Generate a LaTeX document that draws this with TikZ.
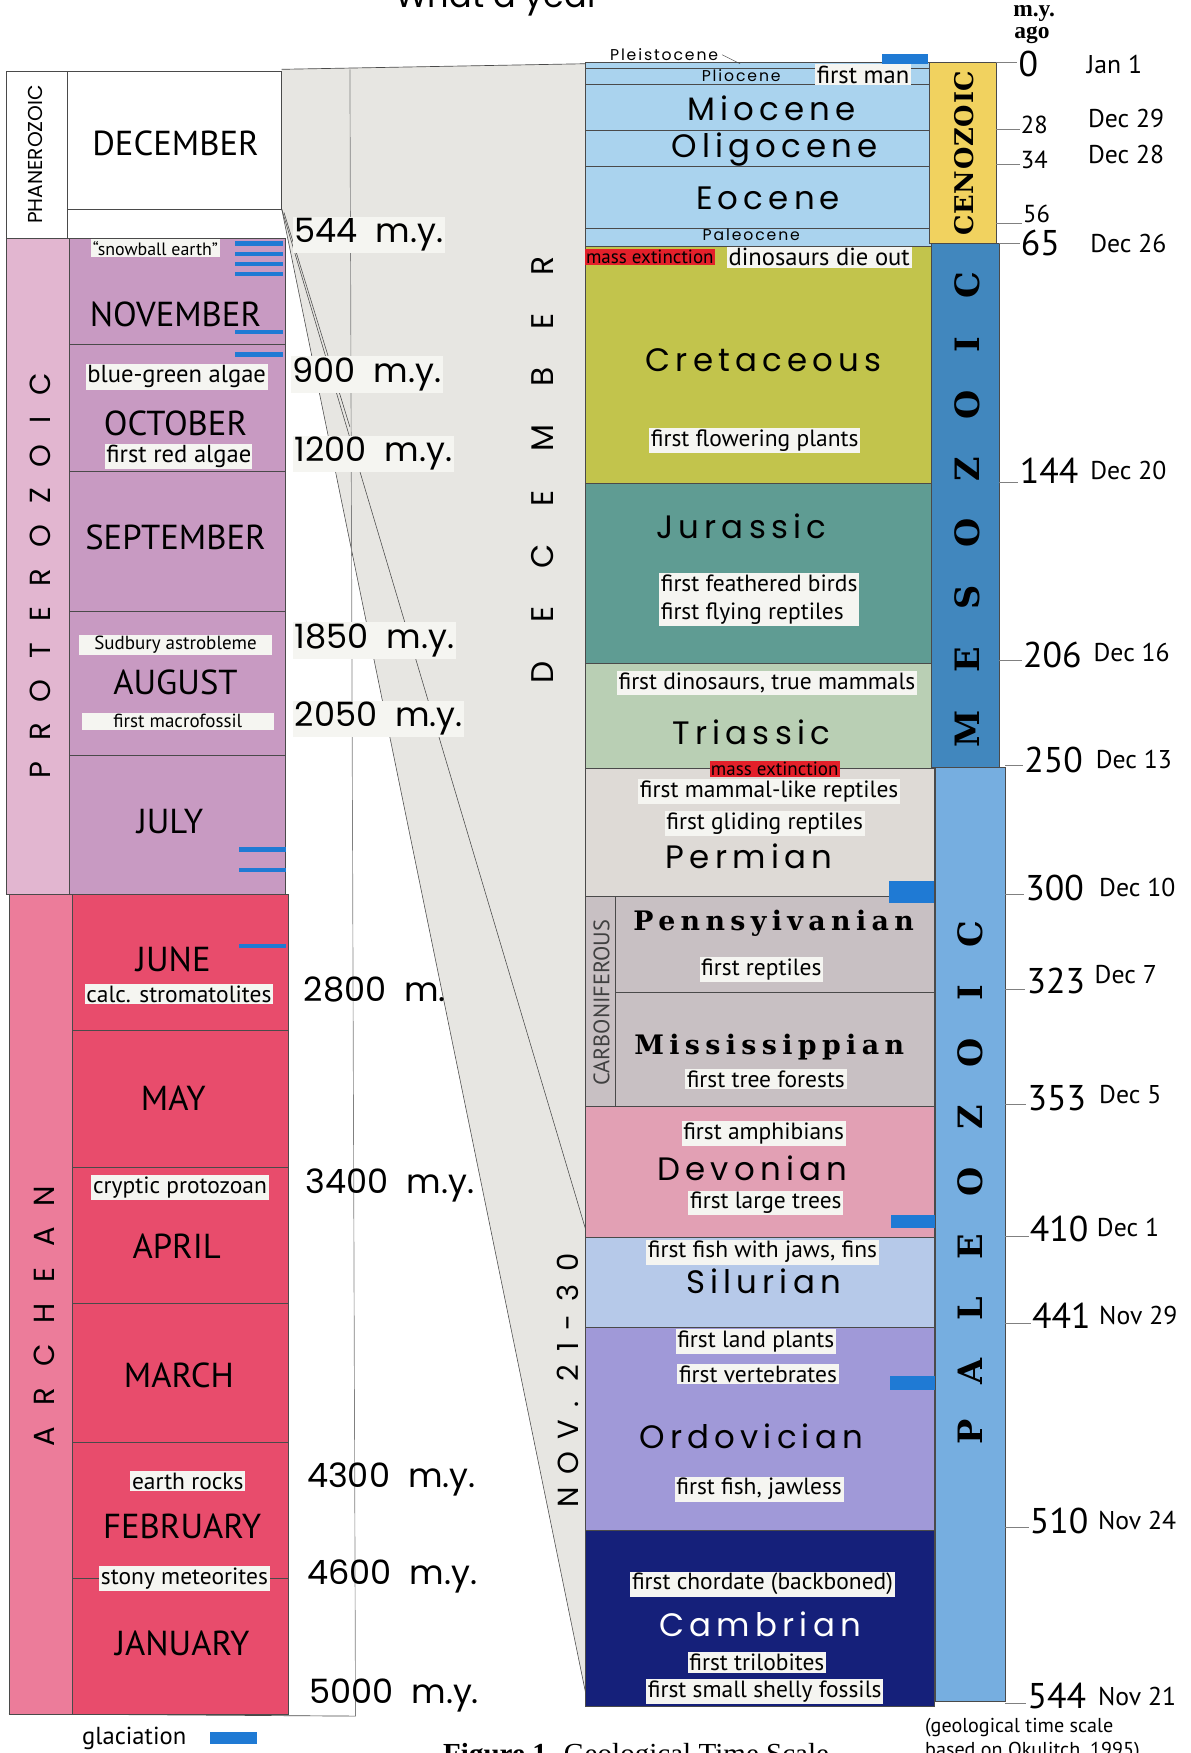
\documentclass[tikz,border=0pt]{standalone}
\usepackage{fontspec}
\setmainfont{Liberation Serif}
\newfontfamily\monthfont{PT Sans}
\newfontfamily\geofont{Poppins}
\newfontfamily\epochfont[LetterSpace=16]{Poppins}
\newfontfamily\minorfont[LetterSpace=12]{Poppins}
\newfontfamily\erafont[LetterSpace=72]{Poppins}
\newfontfamily\decfont[LetterSpace=122]{Poppins}
\newfontfamily\novfont[LetterSpace=43]{Poppins}
\newfontfamily\slabfont[LetterSpace=20]{DejaVu Serif}
\newfontfamily\barfont[LetterSpace=112]{DejaVu Serif}
\newfontfamily\cenofont[LetterSpace=3]{DejaVu Serif}
\newcommand{\fsz}[1]{\fontsize{#1}{#1}\selectfont}

\definecolor{edge}{HTML}{4A4A4A}
\definecolor{funnel}{HTML}{E7E6E2}
\definecolor{boxwhite}{HTML}{F5F5F1}
\definecolor{iceblue}{HTML}{1F7AD4}
\definecolor{extred}{HTML}{E3202A}
\definecolor{protero}{HTML}{E2B6D0}
\definecolor{promonth}{HTML}{C89AC2}
\definecolor{archean}{HTML}{EC7C9A}
\definecolor{armonth}{HTML}{E84C6C}
\definecolor{cenoblue}{HTML}{AAD3EE}
\definecolor{cretac}{HTML}{C2C44C}
\definecolor{jurass}{HTML}{5F9C93}
\definecolor{triass}{HTML}{B9CFB4}
\definecolor{permcol}{HTML}{DEDAD6}
\definecolor{carbon}{HTML}{C8C0C3}
\definecolor{devon}{HTML}{E2A0B4}
\definecolor{silur}{HTML}{B6C9E9}
\definecolor{ordov}{HTML}{A099D8}
\definecolor{cambr}{HTML}{15207A}
\definecolor{cenozoic}{HTML}{F1D25F}
\definecolor{mesozoic}{HTML}{4187BE}
\definecolor{paleozoic}{HTML}{76AEE0}

\begin{document}
\begin{tikzpicture}[x=1pt, y=-1pt,
    month/.style={font=\monthfont\fsz{31}},
    event/.style={fill=boxwhite, inner sep=1.5pt, font=\monthfont\fsz{21}},
    extinct/.style={fill=extred, inner sep=1pt, font=\monthfont\fsz{17}},
    myr/.style={anchor=west, inner sep=1.5pt, font=\geofont\fsz{30}},
    epoch/.style={font=\epochfont\fsz{29}},
    minorepoch/.style={font=\minorfont\fsz{14}},
    slab/.style={font=\slabfont\bfseries\fsz{24}},
    layer/.style={draw=edge, line width=0.6pt},
    scaletick/.style={draw=gray, line width=0.6pt}]
  \useasboundingbox[fill=white] (0,0) rectangle (1065,1568);

  % Title
  \node[font=\geofont\fsz{30}, anchor=base] (title) at (445,7) {What a year};

  % Funnel from the long column into December
  \fill[funnel] (252,62) -- (524,57) -- (526,1525) -- (252,187) -- cycle;
  \draw[layer] (252,62) -- (524,57);
  \draw[edge, line width=0.5pt] (252,187) -- (526,1525);
  \draw[edge, line width=0.5pt] (252,187) -- (526,1107);
  \draw[edge, line width=0.5pt] (254,190) -- (313,382);
  \draw[gray, line width=0.6pt] (313,62) -- (318,1535);
  \draw[layer] (8,1533) -- (318,1535);

  % Eras of the long column
  \filldraw[fill=white, layer] (6,64) rectangle (60,213);
  \filldraw[fill=protero, layer] (6,213) rectangle (62,800);
  \filldraw[fill=archean, layer] (8,800) rectangle (65,1533);
  \node[rotate=90, font=\geofont\fsz{18}] (phan) at (32,138) {PHANEROZOIC};
  \node[rotate=90, font=\erafont\fsz{26}] (prot) at (36,515) {PROTEROZOIC};
  \node[rotate=90, font=\erafont\fsz{26}] (arch) at (40,1177) {ARCHEAN};

  % Months
  \filldraw[fill=white, layer] (60,64) rectangle (252,187);
  \draw[layer] (60,213) -- (252,213);
  \foreach \t/\b in {213/308, 308/422, 422/547, 547/676, 676/800}
    \filldraw[fill=promonth, layer] (62,\t) rectangle (255,\b);
  \foreach \t/\b in {800/922, 922/1044, 1044/1166, 1166/1290, 1290/1412, 1412/1533}
    \filldraw[fill=armonth, layer] (65,\t) rectangle (258,\b);

  \node[month] (dec) at (157,128) {DECEMBER};
  \node[month] (nov) at (157,281) {NOVEMBER};
  \node[month] (oct) at (157,379) {OCTOBER};
  \node[month] (sep) at (157,481) {SEPTEMBER};
  \node[month] (aug) at (157,610) {AUGUST};
  \node[month] (jul) at (152,735) {JULY};
  \node[month] (jun) at (155,858) {JUNE};
  \node[month] (may) at (155,982) {MAY};
  \node[month] (apr) at (158,1115) {APRIL};
  \node[month] (mar) at (160,1230) {MARCH};
  \node[month] (feb) at (163,1365) {FEBRUARY};
  \node[month] (jan) at (163,1470) {JANUARY};

  % Glaciations in the long column
  \foreach \y in {218,227,236,245,297,317}
    \fill[iceblue] (210,\y-2) rectangle (253,\y+2);
  \foreach \y in {760,778,846}
    \fill[iceblue] (214,\y-2) rectangle (256,\y+2);

  % Events in the long column
  \node[event, font=\monthfont\fsz{16}] (snow) at (139,222) {“snowball earth”};
  \node[event, font=\monthfont\fsz{22}] (bluegreen) at (158,337) {blue-green algae};
  \node[event, font=\monthfont\fsz{22}, inner sep=1pt] (redalgae) at (160,408) {first red algae};
  \node[event, font=\monthfont\fsz{17}, minimum width=172] (sudbury) at (157,577) {Sudbury astrobleme};
  \node[event, font=\monthfont\fsz{17}, minimum width=172] (macro) at (159,645) {first macrofossil};
  \node[event] (stromat) at (160,889) {calc. stromatolites};
  \node[event] (protozoan) at (161,1062) {cryptic protozoan};
  \node[event] (rocks) at (168,1325) {earth rocks};
  \node[event] (meteor) at (165,1412) {stony meteorites};

  % Ages of the long column
  \node[myr, fill=boxwhite] (my544) at (262,210) {544\ \ m.y.};
  \node[myr, fill=boxwhite] (my900) at (260,335) {900\ \ m.y.};
  \node[myr, fill=boxwhite] (my1200) at (262,406) {1200\ \ m.y.};
  \node[myr, fill=boxwhite] (my1850) at (262,573) {1850\ \ m.y.};
  \node[myr, fill=boxwhite] (my2050) at (262,643) {2050\ \ m.y.};
  \node[myr] (my2800) at (270,885) {2800\ \ m.};
  \node[myr] (my3400) at (272,1060) {3400\ \ m.y.};
  \node[myr] (my4300) at (273,1323) {4300\ \ m.y.};
  \node[myr] (my4600) at (273,1410) {4600\ \ m.y.};
  \node[myr] (my5000) at (275,1517) {5000\ \ m.y.};

  % December and November in the funnel
  \node[rotate=90, font=\decfont\fsz{28}] (decword) at (485,420) {DECEMBER};
  \node[rotate=90, font=\novfont\fsz{26}] (novword) at (508,1235) {NOV. 21-30};

  % Periods of the last 544 m.y.
  \foreach \t/\b/\c in {56/61/cenoblue, 61/75/cenoblue, 75/117/cenoblue,
      117/149/cenoblue, 149/204/cenoblue, 204/220/cenoblue, 220/432/cretac,
      432/593/jurass, 593/687/triass, 687/802/permcol, 802/888/carbon,
      888/990/carbon, 990/1107/devon, 1107/1187/silur, 1187/1369/ordov,
      1369/1526/cambr}
    \filldraw[fill=\c, layer] (524,\t) rectangle (836,\b);
  \filldraw[fill=carbon, layer] (524,802) rectangle (550,990);

  % Glaciations in the periods
  \fill[iceblue] (789,48) rectangle (830,57);
  \fill[iceblue] (795,788) rectangle (835,808);
  \fill[iceblue] (797,1087) rectangle (837,1098);
  \fill[iceblue] (796,1231) rectangle (839,1243);

  % Era bars
  \filldraw[fill=cenozoic, layer] (831,56) rectangle (891,218);
  \filldraw[fill=mesozoic, layer] (833,218) rectangle (894,686);
  \filldraw[fill=paleozoic, layer] (837,686) rectangle (899,1522);
  \node[rotate=90, font=\cenofont\bfseries\fsz{23}] (ceno) at (862,137) {CENOZOIC};
  \node[rotate=90, font=\barfont\bfseries\fsz{30}] (meso) at (865,456) {MESOZOIC};
  \node[rotate=90, font=\barfont\bfseries\fsz{30}] (paleo) at (868,1058) {PALEOZOIC};

  % Scale of m.y. ago and dates
  \node[font=\bfseries\fsz{21}, inner sep=0pt] (myhead) at (925,12) {m.y.};
  \node[font=\bfseries\fsz{21}, inner sep=0pt] (agohead) at (923,31) {ago};
  \foreach \bx/\ty/\ny/\nx/\num/\fs/\dx/\dy/\dat in {
      891/56/57/910/0/32/972/58/Jan 1,
      891/116/112/912/28/22/973/106/Dec 29,
      891/147/143/912/34/22/973/138/Dec 28,
      894/218/217/912/65/32/975/218/Dec 26,
      894/431/421/911/144/32/975/421/Dec 20,
      894/591/586/914/206/32/978/584/Dec 16,
      899/685/680/915/250/32/980/679/Dec 13,
      899/800/794/916/300/32/983/794/Dec 10,
      899/885/877/917/323/32/979/872/Dec 7,
      899/988/982/918/353/32/983/979/Dec 5,
      899/1106/1099/920/410/32/981/1098/Dec 1,
      899/1184/1177/922/441/32/983/1177/Nov 29,
      899/1366/1360/920/510/32/982/1360/Nov 24,
      899/1524/1517/918/544/32/982/1517/Nov 21} {
    \draw[scaletick] (\bx,\ty) -- (\nx,\ty);
    \node[anchor=west, inner sep=1pt, font=\monthfont\fsz{\fs}] (n\num) at (\nx,\ny) {\num};
    \node[anchor=west, inner sep=0pt, font=\monthfont\fsz{23}] (d\num) at (\dx,\dy) {\dat};
  }
  \draw[scaletick] (891,200) -- (914,200);
  \node[anchor=west, inner sep=1pt, font=\monthfont\fsz{22}] (n56) at (914,191) {56};

  % Epochs and periods
  \node[minorepoch] (pleist) at (594,49) {Pleistocene};
  \draw[edge, line width=0.4pt] (pleist.east) -- (662,57);
  \node[minorepoch] (plio) at (663,68) {Pliocene};
  \node[event, font=\monthfont\fsz{22}] (man) at (772,67) {first man};
  \node[epoch] (mio) at (690,97) {Miocene};
  \node[epoch] (oligo) at (693,134) {Oligocene};
  \node[epoch] (eoc) at (687,177) {Eocene};
  \node[minorepoch] (paleoc) at (672,210) {Paleocene};
  \node[extinct, anchor=west] (kt) at (523,230) {mass extinction};
  \node[event, anchor=west, font=\monthfont\fsz{22}] (dino) at (650,230) {dinosaurs die out};
  \node[epoch] (cret) at (683,322) {Cretaceous};
  \node[event] (flower) at (675,394) {first flowering plants};
  \node[epoch] (jur) at (663,471) {Jurassic};
  \node[event, align=left] (birds) at (679,536) {first feathered birds\\[4pt]first flying reptiles};
  \node[event] (dinofirst) at (686,611) {first dinosaurs, true mammals};
  \node[epoch] (tri) at (672,655) {Triassic};
  \node[extinct] (pt) at (693,688) {mass extinction};
  \node[event] (mamlike) at (688,708) {first mammal-like reptiles};
  \node[event] (glide) at (684,737) {first gliding reptiles};
  \node[epoch] (permian) at (670,766) {Permian};
  \node[rotate=90, font=\monthfont\fsz{20}, text=darkgray] (carb) at (538,897) {CARBONIFEROUS};
  \node[slab] (penn) at (692,826) {Pennsyivanian};
  \node[event] (rept) at (681,867) {first reptiles};
  \node[slab] (miss) at (688,937) {Mississippian};
  \node[event] (forest) at (685,965) {first tree forests};
  \node[event] (amph) at (683,1014) {first amphibians};
  \node[epoch] (dev) at (673,1045) {Devonian};
  \node[event] (trees) at (685,1076) {first large trees};
  \node[event] (jaws) at (682,1120) {first fish with jaws, fins};
  \node[epoch] (sil) at (683,1146) {Silurian};
  \node[event] (land) at (676,1200) {first land plants};
  \node[event] (vert) at (678,1229) {first vertebrates};
  \node[epoch] (ord) at (672,1285) {Ordovician};
  \node[event] (jawless) at (679,1332) {first fish, jawless};
  \node[event] (chord) at (682,1417) {first chordate (backboned)};
  \node[epoch, text=white] (camb) at (680,1453) {Cambrian};
  \node[event] (trilo) at (677,1487) {first trilobites};
  \node[event] (shelly) at (684,1513) {first small shelly fossils};

  % Legend and caption
  \node[anchor=west, font=\monthfont\fsz{22}] (glac) at (70,1555) {glaciation};
  \fill[iceblue] (188,1549) rectangle (230,1560);
  \node[anchor=base, font=\fsz{26}] (caption) at (569,1577) {\textbf{Figure 1.} Geological Time Scale};
  \node[anchor=west, font=\monthfont\fsz{18}] (src1) at (824,1545) {(geological time scale};
  \node[anchor=west, font=\monthfont\fsz{18}] (src2) at (824,1567) {based on Okulitch, 1995)};
\end{tikzpicture}
\end{document}
